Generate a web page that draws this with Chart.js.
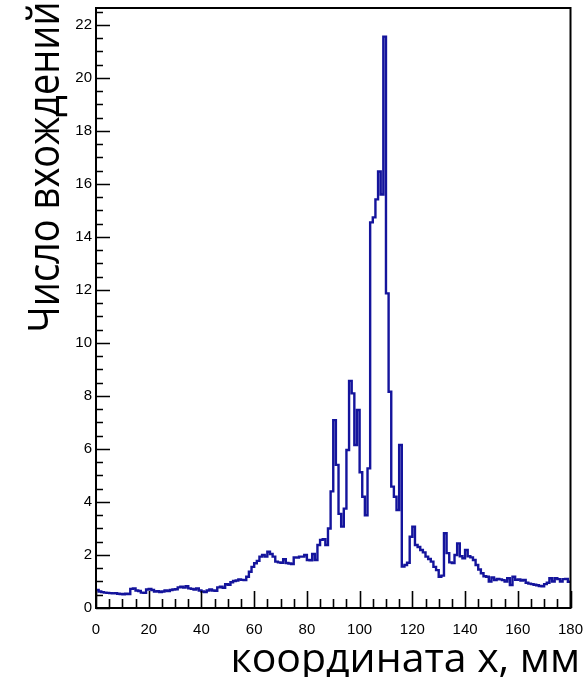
<!DOCTYPE html>
<html>
<head>
<meta charset="utf-8">
<script src="https://cdn.jsdelivr.net/npm/chart.js@4.4.1/dist/chart.umd.min.js"></script>
<style>
  html, body { margin: 0; padding: 0; background: #fff; }
  #histChart { display: block; }
</style>
</head>
<body>
<canvas id="histChart" width="584" height="677"></canvas>
<script>
// histogram contents, one value per 1 mm bin from 0 to 180 mm
const counts = [
  0.68, 0.62, 0.60, 0.58, 0.57, 0.56, 0.55, 0.56, 0.54, 0.53,
  0.52, 0.54, 0.53, 0.72, 0.74, 0.66, 0.64, 0.58, 0.57, 0.70,
  0.72, 0.68, 0.62, 0.63, 0.60, 0.62, 0.66, 0.64, 0.68, 0.70,
  0.71, 0.78, 0.80, 0.77, 0.82, 0.74, 0.72, 0.70, 0.74, 0.66,
  0.62, 0.60, 0.66, 0.70, 0.66, 0.65, 0.78, 0.80, 0.76, 0.90,
  0.88, 0.97, 1.02, 1.04, 1.08, 1.06, 1.05, 1.18, 1.37, 1.55,
  1.69, 1.78, 1.94, 2.00, 1.94, 2.12, 2.04, 1.94, 1.75, 1.72,
  1.71, 1.84, 1.70, 1.68, 1.66, 1.91, 1.90, 1.94, 1.94, 2.00,
  1.81, 1.80, 2.04, 1.81, 2.38, 2.57, 2.60, 2.38, 3.00, 4.40,
  7.09, 5.40, 3.55, 3.07, 3.75, 5.96, 8.57, 8.10, 6.15, 7.47,
  5.12, 4.20, 3.50, 5.27, 14.55, 14.74, 15.42, 16.47, 15.60, 21.56,
  11.87, 8.16, 4.58, 4.20, 3.70, 6.15, 1.56, 1.62, 1.71, 2.69,
  3.07, 2.38, 2.30, 2.19, 2.10, 1.94, 1.85, 1.75, 1.55, 1.43,
  1.18, 1.22, 2.82, 2.07, 1.72, 1.70, 2.00, 2.44, 1.95, 1.88,
  2.19, 1.95, 1.91, 1.81, 1.62, 1.45, 1.31, 1.20, 1.18, 1.00,
  1.15, 1.05, 1.10, 1.08, 1.05, 1.00, 1.12, 0.87, 1.18, 1.06,
  1.08, 1.04, 1.06, 0.95, 0.92, 0.90, 0.88, 0.86, 0.83, 0.82,
  0.90, 0.95, 1.12, 1.00, 1.12, 1.09, 1.00, 1.09, 1.10, 0.99
];
const binWidth = 1;
const xTicks = [0, 20, 40, 60, 80, 100, 120, 140, 160, 180];
const yTicks = [0, 2, 4, 6, 8, 10, 12, 14, 16, 18, 20, 22];
const xTitle = 'координата x, мм';
const yTitle = 'Число вхождений';

// bin edges -> step line points (last edge repeats the last bin)
const histPoints = counts.map((c, i) => ({ x: i * binWidth, y: c }));
histPoints.push({ x: counts.length * binWidth, y: counts[counts.length - 1] });

// ROOT-like frame with inner ticks and big titles
const rootFrame = {
  id: 'rootFrame',
  afterDraw(chart) {
    const { ctx, chartArea: a, scales: { x, y } } = chart;
    ctx.save();
    ctx.strokeStyle = '#000';
    ctx.lineWidth = 2;
    ctx.strokeRect(a.left, a.top, a.right - a.left, a.bottom - a.top);

    ctx.lineWidth = 1.6;
    ctx.beginPath();
    for (let v = 0; v <= y.max; v += 0.5) {
      const py = Math.round(y.getPixelForValue(v)) + 0.5;
      const len = v % 2 === 0 ? 14 : 7;
      ctx.moveTo(a.left, py);
      ctx.lineTo(a.left + len, py);
    }
    for (let v = 0; v <= x.max; v += 5) {
      const px = Math.round(x.getPixelForValue(v)) + 0.5;
      const len = v % 20 === 0 ? 17 : 9;
      ctx.moveTo(px, a.bottom);
      ctx.lineTo(px, a.bottom - len);
    }
    ctx.stroke();

    ctx.fillStyle = '#000';
    ctx.font = '41px "Open Sans"';
    ctx.textAlign = 'right';
    ctx.textBaseline = 'alphabetic';
    ctx.fillText(xTitle, 580, 672);

    ctx.font = '38px "Open Sans"';
    ctx.translate(59, 167);
    ctx.rotate(-Math.PI / 2);
    ctx.scale(1, 1.15);
    ctx.textAlign = 'center';
    ctx.fillText(yTitle, 0, 0);
    ctx.restore();
  }
};

new Chart('histChart', {
  type: 'line',
  data: {
    datasets: [{
      label: 'hist',
      data: histPoints,
      stepped: 'before',
      borderColor: '#14149c',
      borderWidth: 2.4,
      pointRadius: 0,
      fill: false
    }]
  },
  options: {
    responsive: false,
    animation: false,
    devicePixelRatio: 1,
    layout: { padding: { left: 0, right: 13.5, top: 8, bottom: 0 } },
    plugins: {
      legend: { display: false },
      tooltip: { enabled: false }
    },
    scales: {
      x: {
        type: 'linear',
        min: 0,
        max: 180,
        afterBuildTicks: scale => { scale.ticks = xTicks.map(v => ({ value: v })); },
        afterFit: scale => {
          scale.height = 69;
          scale.paddingLeft = 0;
          scale.paddingRight = 0;
        },
        grid: { display: false, drawTicks: false },
        border: { display: false },
        ticks: {
          color: '#000',
          padding: 13,
          maxRotation: 0,
          autoSkip: false,
          font: { family: 'Liberation Sans', size: 15 }
        }
      },
      y: {
        type: 'linear',
        min: 0,
        max: 22.64,
        afterBuildTicks: scale => { scale.ticks = yTicks.map(v => ({ value: v })); },
        afterFit: scale => {
          scale.width = 96;
          scale.paddingTop = 0;
          scale.paddingBottom = 0;
        },
        grid: { display: false, drawTicks: false },
        border: { display: false },
        ticks: {
          color: '#000',
          padding: 4,
          font: { family: 'Liberation Sans', size: 15 }
        }
      }
    }
  },
  plugins: [rootFrame]
});
</script>
</body>
</html>
